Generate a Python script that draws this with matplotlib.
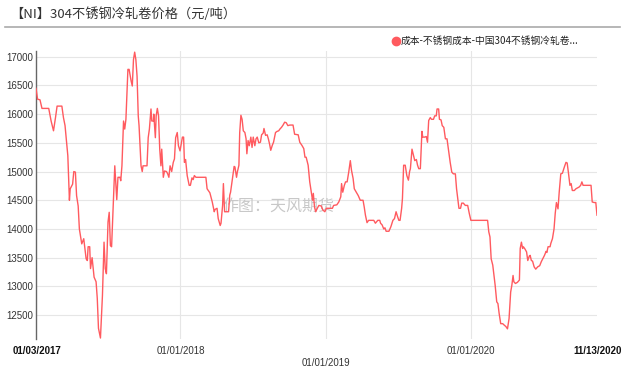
import matplotlib
matplotlib.use("Agg")
import matplotlib.pyplot as plt
import matplotlib.dates as mdates
from matplotlib.lines import Line2D
import pandas as pd

# Data: days since 2017-01-03 and price (yuan/ton)
start_date = "2017-01-03"
end_date = "2020-11-13"
day_offsets = [
    0, 4, 10, 15, 32, 38, 44, 49, 53, 65, 69, 73, 80, 84, 86, 92, 95, 99, 102, 106,
    109, 115, 120, 126, 129, 131, 135, 137, 141, 146, 151, 154, 157, 162, 167, 171, 174, 177, 181, 184,
    187, 190, 194, 198, 203, 206, 211, 213, 216, 220, 223, 226, 231, 234, 239, 242, 245, 248, 251, 254,
    257, 259, 264, 267, 269, 279, 282, 285, 289, 291, 295, 296, 300, 302, 305, 308, 311, 314, 316, 320,
    323, 328, 331, 334, 337, 341, 345, 348, 351, 355, 358, 362, 368, 371, 373, 376, 380, 385, 388, 392,
    395, 398, 402, 427, 430, 437, 443, 448, 450, 455, 458, 463, 465, 469, 471, 474, 477, 484, 487, 489,
    492, 495, 498, 500, 504, 506, 510, 512, 515, 518, 521, 525, 528, 530, 533, 536, 540, 543, 546, 550,
    553, 556, 560, 564, 567, 571, 573, 577, 581, 584, 587, 590, 594, 597, 602, 606, 610, 613, 617, 621,
    625, 629, 633, 638, 646, 650, 659, 663, 668, 673, 676, 679, 684, 688, 692, 695, 697, 700, 703, 707,
    711, 717, 721, 726, 730, 738, 745, 748, 756, 761, 766, 768, 771, 775, 778, 782, 786, 790, 793, 797,
    800, 805, 810, 815, 822, 825, 828, 832, 836, 843, 849, 853, 859, 864, 866, 870, 874, 877, 880, 887,
    892, 897, 901, 905, 909, 912, 915, 919, 921, 924, 928, 932, 936, 939, 941, 945, 949, 952, 956, 959,
    962, 966, 970, 972, 977, 981, 984, 987, 991, 994, 999, 1002, 1006, 1008, 1012, 1014, 1018, 1021, 1025, 1029,
    1033, 1038, 1041, 1045, 1049, 1054, 1057, 1060, 1063, 1067, 1070, 1074, 1079, 1085, 1089, 1093, 1135, 1138, 1141, 1144,
    1148, 1151, 1154, 1158, 1161, 1164, 1168, 1173, 1176, 1181, 1185, 1189, 1193, 1196, 1199, 1201, 1205, 1210, 1215, 1217,
    1220, 1223, 1225, 1229, 1233, 1236, 1240, 1242, 1245, 1248, 1252, 1256, 1261, 1266, 1270, 1273, 1278, 1282, 1284, 1287,
    1292, 1294, 1298, 1302, 1305, 1308, 1312, 1315, 1319, 1323, 1328, 1332, 1335, 1338, 1342, 1345, 1348, 1353, 1357, 1365,
    1369, 1372, 1375, 1395, 1398, 1403, 1407, 1410,
]
prices = [
    16450, 16260, 16250, 16100, 16100, 15880, 15710, 15940, 16140, 16140, 15940, 15800, 15275, 14500, 14700, 14780, 15000, 14990, 14580, 14400,
    14000, 13740, 13830, 13480, 13450, 13690, 13690, 13310, 13500, 13160, 13080, 12790, 12270, 12100, 12840, 13770, 13310, 13220, 14120, 14290,
    13710, 13690, 14410, 15100, 14510, 14900, 14900, 14840, 15100, 15880, 15740, 15910, 16780, 16780, 16580, 16490, 16950, 17080, 16950, 16660,
    15970, 15800, 15100, 15000, 15100, 15100, 15590, 15740, 16090, 15880, 15880, 16000, 15590, 15970, 16100, 15970, 15390, 15100, 15390, 14900,
    15010, 15000, 14960, 14900, 15100, 15000, 15160, 15220, 15590, 15680, 15450, 15360, 15600, 15600, 15160, 15210, 14930, 14760, 14760, 14890,
    14860, 14930, 14900, 14900, 14700, 14630, 14470, 14300, 14340, 14360, 14180, 14060, 14100, 14410, 14790, 14300, 14300, 14300, 14590, 14640,
    14790, 14930, 15090, 15080, 14900, 14990, 15110, 15680, 15980, 15910, 15710, 15680, 15570, 15310, 15540, 15450, 15600, 15420, 15600, 15450,
    15570, 15600, 15500, 15510, 15640, 15670, 15750, 15630, 15640, 15570, 15480, 15370, 15460, 15510, 15680, 15700, 15710, 15740, 15770, 15810,
    15860, 15850, 15800, 15810, 15810, 15650, 15640, 15510, 15460, 15400, 15250, 15250, 15110, 14820, 14640, 14500, 14620, 14380, 14300, 14360,
    14410, 14400, 14330, 14300, 14360, 14360, 14360, 14410, 14420, 14470, 14560, 14790, 14640, 14760, 14820, 14820, 14990, 15190, 15020, 14880,
    14700, 14640, 14580, 14500, 14500, 14380, 14240, 14110, 14150, 14150, 14150, 14100, 14150, 14150, 14100, 14070, 14000, 14020, 13960, 13960,
    14040, 14150, 14180, 14300, 14210, 14150, 14150, 14360, 14530, 15110, 15110, 14930, 14850, 15000, 15050, 15390, 15280, 15190, 15210, 15110,
    15050, 15050, 15700, 15600, 15600, 15610, 15510, 15890, 15940, 15910, 15910, 15970, 15970, 16090, 16090, 15910, 15900, 15800, 15770, 15570,
    15570, 15310, 15160, 14990, 14960, 14960, 14700, 14530, 14360, 14360, 14450, 14450, 14410, 14410, 14270, 14150, 14150, 13950, 13860, 13480,
    13370, 13190, 13020, 12730, 12700, 12530, 12350, 12350, 12330, 12300, 12260, 12440, 12900, 13020, 13190, 13080, 13050, 13070, 13110, 13660,
    13770, 13660, 13690, 13650, 13600, 13450, 13530, 13540, 13450, 13440, 13340, 13300, 13340, 13360, 13430, 13470, 13540, 13610, 13590, 13690,
    13690, 13750, 13830, 14000, 14270, 14460, 14350, 14640, 14960, 14970, 15080, 15160, 15150, 14990, 14760, 14790, 14670, 14670, 14700, 14730,
    14760, 14820, 14760, 14760, 14470, 14460, 14460, 14240,
]
y_ticks = [12500, 13000, 13500, 14000, 14500, 15000, 15500, 16000, 16500, 17000]
x_label_dates = ["2017-01-03", "2018-01-01", "2019-01-01", "2020-01-01", "2020-11-13"]
x_label_texts = ["01/03/2017", "01/01/2018", "01/01/2019", "01/01/2020", "11/13/2020"]

title = "【NI】304不锈钢冷轧卷价格（元/吨）"
series_name = "成本-不锈钢成本-中国304不锈钢冷轧卷..."
watermark = "作图：天风期货"

cjk = ["Noto Sans CJK SC", "DejaVu Sans"]
plt.rcParams["font.family"] = ["Liberation Sans", "Noto Sans CJK SC", "DejaVu Sans"]

dates = pd.Timestamp(start_date) + pd.to_timedelta(day_offsets, unit="D")
line_color = "#ff5a5f"

fig = plt.figure(figsize=(6.24, 3.74), dpi=100)
W, H = 624, 374
ax = fig.add_axes([36 / W, 1 - 339 / H, 561 / W, 288 / H])

ax.plot(dates, prices, color=line_color, lw=1.0, zorder=3)

ax.set_xlim(pd.Timestamp(start_date), pd.Timestamp(end_date))
ax.set_ylim(12083, 17100)

# grid
ax.set_yticks(y_ticks)
ax.set_yticklabels([str(v) for v in y_ticks], fontsize=7, color="#333333")
ax.grid(axis="y", color="#e6e6e6", lw=0.8, zorder=0)
for d in x_label_dates[1:4]:
    ax.axvline(pd.Timestamp(d), color="#e6e6e6", lw=0.8, zorder=0)
ax.tick_params(axis="y", length=0, pad=2)
ax.set_xticks([])

for s in ["top", "right", "bottom"]:
    ax.spines[s].set_visible(False)
ax.spines["left"].set_color("#666666")
ax.spines["left"].set_linewidth(1.0)

# x labels: first/last bold, middle staggered
for i, (d, t) in enumerate(zip(x_label_dates, x_label_texts)):
    xd = mdates.date2num(pd.Timestamp(d))
    if i == 0:
        ax.annotate(t, (xd, 0), xycoords=("data", "axes fraction"), xytext=(-17, -5),
                    textcoords="offset points", ha="left", va="top", fontsize=7,
                    fontweight="bold", color="#111111")
    elif i == len(x_label_dates) - 1:
        ax.annotate(t, (xd, 0), xycoords=("data", "axes fraction"), xytext=(18, -5),
                    textcoords="offset points", ha="right", va="top", fontsize=7,
                    fontweight="bold", color="#111111")
    else:
        off = -14 if i == 2 else -5
        ax.annotate(t, (xd, 0), xycoords=("data", "axes fraction"), xytext=(0, off),
                    textcoords="offset points", ha="center", va="top", fontsize=7,
                    color="#333333")

# title and separator
fig.text(10 / W, 1 - 14 / H, title, fontsize=9.5, color="#333333", family=cjk,
         fontweight="medium", ha="left", va="center")
fig.add_artist(Line2D([5 / W, 620 / W], [1 - 27 / H, 1 - 27 / H], color="#aaaaaa", lw=1.2))

# legend
fig.add_artist(Line2D([396 / W], [1 - 41 / H], marker="o", markersize=6,
                      color=line_color, linestyle="none"))
fig.text(401 / W, 1 - 41 / H, series_name, fontsize=7, color="#222222", family=cjk,
         ha="left", va="center")

# watermark (under the line)
ax.text((222 - 36) / 561, (339 - 206) / 288, watermark, transform=ax.transAxes,
        fontsize=11.5, color="#c8c8c8", family=cjk, ha="left", va="center", zorder=2)

fig.savefig("out.png", dpi=100)
